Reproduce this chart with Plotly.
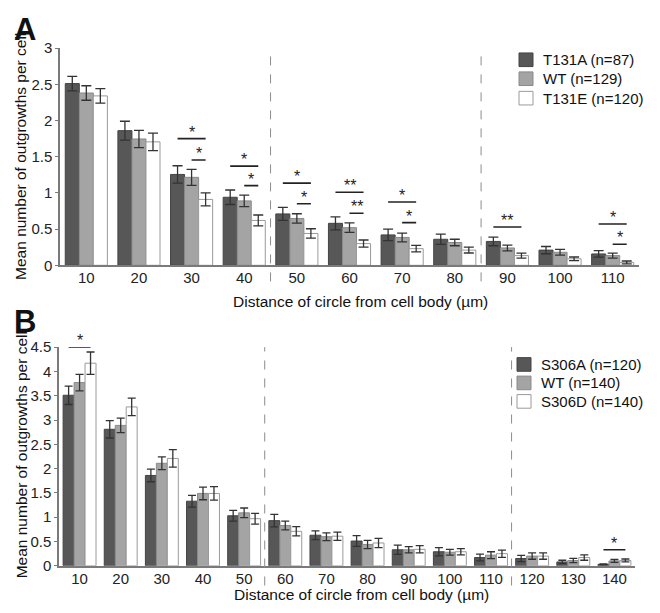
import plotly.graph_objects as go

# ---------------- Data: panel A ----------------
cats_a = ["10", "20", "30", "40", "50", "60", "70", "80", "90", "100", "110"]
t131a = [2.51, 1.86, 1.255, 0.94, 0.71, 0.58, 0.42, 0.36, 0.33, 0.21, 0.157]
t131a_err = [0.10, 0.13, 0.12, 0.10, 0.09, 0.09, 0.08, 0.07, 0.06, 0.05, 0.045]
wt_a = [2.38, 1.745, 1.215, 0.89, 0.647, 0.52, 0.385, 0.315, 0.24, 0.18, 0.134]
wt_a_err = [0.10, 0.12, 0.11, 0.08, 0.065, 0.065, 0.06, 0.045, 0.04, 0.04, 0.035]
t131e = [2.34, 1.705, 0.91, 0.62, 0.44, 0.30, 0.23, 0.21, 0.134, 0.09, 0.04]
t131e_err = [0.10, 0.12, 0.09, 0.075, 0.065, 0.05, 0.045, 0.04, 0.035, 0.025, 0.02]
names_a = ["T131A (n=87)", "WT (n=129)", "T131E (n=120)"]
# significance: (category index, from bar, to bar, line height, label)
sig_a = [(2, 0, 2, 1.75, "*"), (2, 1, 2, 1.455, "*"),
         (3, 0, 2, 1.37, "*"), (3, 1, 2, 1.10, "*"),
         (4, 0, 2, 1.135, "*"), (4, 1, 2, 0.85, "*"),
         (5, 0, 2, 1.01, "**"), (5, 1, 2, 0.72, "**"),
         (6, 0, 2, 0.875, "*"), (6, 1, 2, 0.59, "*"),
         (8, 0, 2, 0.53, "**"),
         (10, 0, 2, 0.57, "*"), (10, 1, 2, 0.29, "*")]
yticks_a = [0, 0.5, 1, 1.5, 2, 2.5, 3]
dividers_a = [3.5, 7.5]

# ---------------- Data: panel B ----------------
cats_b = ["10", "20", "30", "40", "50", "60", "70", "80", "90", "100", "110", "120", "130", "140"]
s306a = [3.51, 2.81, 1.86, 1.33, 1.03, 0.93, 0.63, 0.51, 0.33, 0.29, 0.17, 0.15, 0.08, 0.03]
s306a_err = [0.19, 0.18, 0.13, 0.12, 0.11, 0.13, 0.09, 0.11, 0.095, 0.085, 0.07, 0.065, 0.035, 0.01]
wt_b = [3.77, 2.89, 2.11, 1.49, 1.09, 0.83, 0.60, 0.44, 0.33, 0.28, 0.22, 0.20, 0.11, 0.10]
wt_b_err = [0.17, 0.15, 0.13, 0.13, 0.10, 0.09, 0.08, 0.085, 0.065, 0.06, 0.07, 0.065, 0.045, 0.03]
s306d = [4.17, 3.27, 2.21, 1.49, 0.97, 0.71, 0.61, 0.47, 0.34, 0.29, 0.25, 0.20, 0.17, 0.11]
s306d_err = [0.23, 0.18, 0.18, 0.14, 0.11, 0.095, 0.085, 0.095, 0.075, 0.065, 0.075, 0.065, 0.055, 0.03]
names_b = ["S306A (n=120)", "WT (n=140)", "S306D (n=140)"]
sig_b = [(0, 0, 2, 4.5, "*"), (13, 0, 2, 0.33, "*")]
yticks_b = [0, 0.5, 1, 1.5, 2, 2.5, 3, 3.5, 4, 4.5]
dividers_b = [4.5, 10.5]

xtitle = "Distance of circle from cell body (µm)"
ytitle = "Mean number of outgrowths per cell"

# ---------------- Styles / geometry ----------------
FONT = "Liberation Sans, Arial, sans-serif"
fills = ["#575757", "#a4a4a4", "#ffffff"]
edges = ["#444444", "#8a8a8a", "#9a9a9a"]
OFF = 8                      # page body margin
W, H = 660 - OFF, 613 - OFF  # figure fits inside the window
BARW = 0.8 / 3


def px(x):
    return (x - OFF) / W


def py(y):
    return 1 - (y - OFF) / H


fig = go.Figure()


def add_panel(cats, series, errs, names, xa, ya, capw):
    for k in range(3):
        fig.add_trace(go.Bar(
            x=cats, y=series[k], name=names[k], showlegend=False,
            marker=dict(color=fills[k], line=dict(color=edges[k], width=1)),
            error_y=dict(type="data", array=errs[k], color="#333333",
                         thickness=1.3, width=capw),
            xaxis=xa, yaxis=ya,
        ))


add_panel(cats_a, [t131a, wt_a, t131e], [t131a_err, wt_a_err, t131e_err],
          names_a, "x", "y", 5)
add_panel(cats_b, [s306a, wt_b, s306d], [s306a_err, wt_b_err, s306d_err],
          names_b, "x2", "y2", 4)


def add_sigs(sigs, xref, yref):
    for (i, a, b, yv, lab) in sigs:
        x0 = i + (a - 1) * BARW
        x1 = i + (b - 1) * BARW
        fig.add_shape(type="line", xref=xref, yref=yref, x0=x0, x1=x1, y0=yv, y1=yv,
                      line=dict(color="#222222", width=1.6))
        fig.add_annotation(x=(x0 + x1) / 2, y=yv, xref=xref, yref=yref, text=lab,
                           showarrow=False, yanchor="bottom", yshift=-4,
                           font=dict(family=FONT, size=16, color="#222222"))


add_sigs(sig_a, "x", "y")
add_sigs(sig_b, "x2", "y2")

for xv in dividers_a:
    fig.add_shape(type="line", xref="x", yref="y domain", x0=xv, x1=xv, y0=-0.074, y1=1,
                  line=dict(color="#8c8c8c", width=1, dash="dash"))
for xv in dividers_b:
    fig.add_shape(type="line", xref="x2", yref="y2 domain", x0=xv, x1=xv, y0=-0.09, y1=1,
                  line=dict(color="#8c8c8c", width=1, dash="dash"))

axis_common = dict(showline=True, linecolor="#7a7a7a", linewidth=1.5, showgrid=False,
                   zeroline=False, tickfont=dict(family=FONT, size=15, color="#222222"))

fig.update_layout(
    width=W, height=H, margin=dict(l=0, r=0, t=0, b=0),
    paper_bgcolor="white", plot_bgcolor="white",
    barmode="group", bargap=0.2, bargroupgap=0,
    font=dict(family=FONT, size=15, color="#222222"),
    showlegend=False,
    xaxis=dict(domain=[px(60), px(639)], anchor="y", type="category",
               range=[-0.5, 10.5], ticks="", ticklabelstandoff=-2, **axis_common),
    yaxis=dict(domain=[py(263.5), py(40)], anchor="x", range=[0, 3],
               tickvals=yticks_a, ticks="outside", ticklen=3, tickcolor="#7a7a7a",
               **axis_common),
    xaxis2=dict(domain=[px(59), px(635)], anchor="y2", type="category",
                range=[-0.5, 13.5], ticks="", ticklabelstandoff=-2, **axis_common),
    yaxis2=dict(domain=[py(572.7), py(347.7)], anchor="x2", range=[0, 4.5],
                tickvals=yticks_b, ticks="outside", ticklen=3, tickcolor="#7a7a7a",
                **axis_common),
)


def ann(text, x, y, size, bold=False, angle=0, xanchor="center"):
    fig.add_annotation(text=f"<b>{text}</b>" if bold else text,
                       x=px(x), y=py(y), xref="paper", yref="paper",
                       showarrow=False, textangle=angle, xanchor=xanchor, yanchor="middle",
                       font=dict(family=FONT, size=size, color="#111111"))


# legends (swatches + labels)
def legend(names, sq_left, text_left, rows):
    for k in range(3):
        fig.add_shape(type="rect", xref="paper", yref="paper",
                      x0=px(sq_left), x1=px(sq_left + 14),
                      y0=py(rows[k] + 7), y1=py(rows[k] - 7),
                      fillcolor=fills[k], line=dict(color=edges[k], width=1))
        ann(names[k], text_left, rows[k], 15, xanchor="left")


legend(names_a, 519, 541, [52, 71.5, 91.5])
legend(names_b, 517, 539, [365.5, 384.5, 403.5])

ann("A", 25, 21, 31, bold=True)
ann("B", 25, 321, 31, bold=True)
ann(ytitle, 21, 152, 15.5, angle=-90)
ann(ytitle, 21, 459, 15.5, angle=-90)
ann(xtitle, 360.5, 301, 15.5)
ann(xtitle, 361, 602, 15.5)

fig.write_html("out.html")
